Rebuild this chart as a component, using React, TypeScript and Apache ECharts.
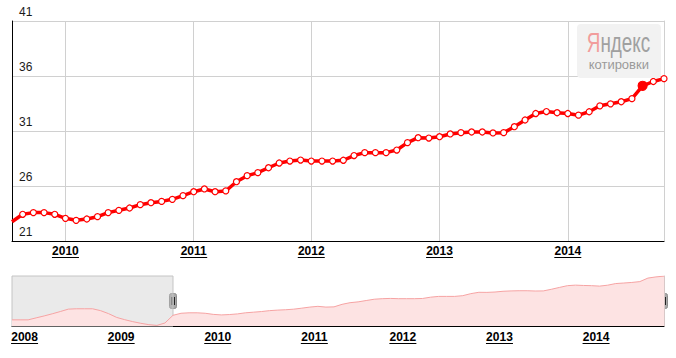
import React, { useEffect, useRef } from 'react';
import * as echarts from 'echarts';

// ---- data ----
const preDates = [
  '2007-12',
  '2008-01', '2008-02', '2008-03', '2008-04', '2008-05', '2008-06',
  '2008-07', '2008-08', '2008-09', '2008-10', '2008-11', '2008-12',
  '2009-01', '2009-02', '2009-03', '2009-04', '2009-05', '2009-06', '2009-07',
];
const preValues = [
  21.24,
  21.24, 21.24, 21.9, 22.55, 23.25, 24.0,
  24.8, 24.92, 24.92, 24.92, 24.3, 23.3,
  22.05, 21.3, 20.65, 20.1, 19.65, 19.4, 20.2,
];

const mainDates = [
  '2009-08', '2009-09', '2009-10', '2009-11', '2009-12',
  '2010-01', '2010-02', '2010-03', '2010-04', '2010-05', '2010-06',
  '2010-07', '2010-08', '2010-09', '2010-10', '2010-11', '2010-12',
  '2011-01', '2011-02', '2011-03', '2011-04', '2011-05', '2011-06',
  '2011-07', '2011-09', '2011-10', '2011-11', '2011-12',
  '2012-01', '2012-02', '2012-03', '2012-04', '2012-05', '2012-06',
  '2012-07', '2012-08', '2012-09', '2012-10', '2012-11', '2012-12',
  '2013-01', '2013-02', '2013-03', '2013-04', '2013-05', '2013-06',
  '2013-07', '2013-08', '2013-09', '2013-10', '2013-11', '2013-12',
  '2014-01', '2014-02', '2014-03', '2014-04', '2014-05', '2014-06',
  '2014-07', '2014-08', '2014-09', '2014-10',
];
const mainValues = [
  22.75, 23.43, 23.58, 23.58, 23.43,
  23.06, 22.88, 23.0, 23.21, 23.58, 23.79,
  24.0, 24.3, 24.48, 24.6, 24.79, 25.12,
  25.48, 25.73, 25.48, 25.55, 26.39, 26.94,
  27.21, 27.66, 28.09, 28.27, 28.36,
  28.27, 28.27, 28.27, 28.34, 28.77, 29.03,
  29.03, 29.03, 29.27, 29.94, 30.39, 30.36,
  30.48, 30.73, 30.85, 30.91, 30.91, 30.82,
  30.85, 31.39, 32.0, 32.59, 32.77, 32.66,
  32.59, 32.44, 32.75, 33.29, 33.47, 33.66,
  33.94, 35.11, 35.5, 35.76,
];
const highlightIndex = 59;
const yTicks = [21, 26, 31, 36, 41];
const navRange = [19.2, 35.8];

const FONT = '"Liberation Sans", Arial, Helvetica, sans-serif';

const isYearStart = (_i: number, v: string) => typeof v === 'string' && v.endsWith('-01');
const yearLabel = (v: string) => `{t|${v.slice(0, 4)}}\n{u|}`;
const yearRich = {
  t: { fontFamily: FONT, fontWeight: 'bold', fontSize: 12, lineHeight: 12, color: '#000' },
  u: { width: 27, height: 1, lineHeight: 1, backgroundColor: '#000' },
};

export default function App() {
  const ref = useRef<HTMLDivElement>(null);
  useEffect(() => {
    if (!ref.current) return;
    const chart = echarts.init(ref.current, null, { renderer: 'svg' });
    const navDates = [...preDates, ...mainDates];
    const navValues = [...preValues, ...mainValues];
    const selStart = preDates.length;
    const mainData = mainValues.map((v, i) => {
      if (i === 0) return { value: v, symbol: 'none' };
      if (i === highlightIndex)
        return { value: v, symbolSize: 9, itemStyle: { color: '#ff0000', borderColor: '#ff0000' } };
      return v;
    });
    const option: any = {
      animation: false,
      backgroundColor: '#ffffff',
      grid: [
        { left: 12, right: 12, top: 21, height: 220, outerBoundsMode: 'none' },
        { left: 12, right: 12, top: 276, height: 50, outerBoundsMode: 'none' },
      ],
      xAxis: [
        {
          type: 'category', gridIndex: 0, data: mainDates, boundaryGap: false,
          axisLine: { lineStyle: { color: '#000', width: 1 } },
          axisTick: { show: false },
          axisLabel: { interval: isYearStart, formatter: yearLabel, margin: 4, rich: yearRich },
          splitLine: { show: true, interval: isYearStart, lineStyle: { color: '#d0d0d0', width: 1 } },
        },
        {
          type: 'category', gridIndex: 1, data: navDates, boundaryGap: false,
          axisLine: { lineStyle: { color: '#000', width: 1 } },
          axisTick: { show: false },
          axisLabel: { interval: isYearStart, formatter: yearLabel, margin: 5, rich: yearRich, padding: [0, 0, 0, 9] },
          splitLine: { show: false },
        },
      ],
      yAxis: [
        {
          type: 'value', gridIndex: 0, min: yTicks[0], max: yTicks[yTicks.length - 1], interval: yTicks[1] - yTicks[0],
          axisLine: { show: true, lineStyle: { color: '#000', width: 1 } },
          axisTick: { show: false },
          axisLabel: {
            inside: true, margin: 7, color: '#1a1a1a', fontSize: 12, fontFamily: FONT,
            verticalAlign: 'bottom', lineHeight: 14, padding: [0, 0, 2, 0],
          },
          splitLine: { show: true, lineStyle: { color: '#d0d0d0', width: 1 } },
        },
        {
          type: 'value', gridIndex: 0, position: 'right', min: yTicks[0], max: yTicks[yTicks.length - 1],
          axisLine: { show: true, lineStyle: { color: '#d0d0d0', width: 1 } },
          axisTick: { show: false }, axisLabel: { show: false }, splitLine: { show: false },
        },
        {
          type: 'value', gridIndex: 1, min: navRange[0], max: navRange[1],
          axisLine: { show: false }, axisTick: { show: false }, axisLabel: { show: false }, splitLine: { show: false },
        },
        {
          type: 'value', gridIndex: 1, position: 'right', min: navRange[0], max: navRange[1],
          axisLine: { show: true, lineStyle: { color: '#d8c8c8', width: 1 } },
          axisTick: { show: false }, axisLabel: { show: false }, splitLine: { show: false },
        },
      ],
      series: [
        {
          type: 'line', xAxisIndex: 1, yAxisIndex: 2, data: navValues, symbol: 'none',
          lineStyle: { color: '#f6a3a3', width: 1 },
          areaStyle: { color: '#fde3e3', opacity: 1 },
          markArea: {
            silent: true,
            itemStyle: { color: 'rgba(200,200,200,0.38)', borderColor: '#c4c4c4', borderWidth: 1 },
            data: [[{ xAxis: navDates[0] }, { xAxis: navDates[selStart] }]],
          },
        },
        {
          type: 'line', xAxisIndex: 0, yAxisIndex: 0, data: mainData,
          symbol: 'circle', symbolSize: 6, showAllSymbol: true,
          lineStyle: { color: '#ff0000', width: 3.5 },
          itemStyle: { color: '#ffffff', borderColor: '#ff0000', borderWidth: 1.2 },
          z: 3,
        },
      ],
    };
    chart.setOption(option);

    const hx1 = chart.convertToPixel({ xAxisIndex: 1 }, navDates[selStart]) as number;
    const hx2 = chart.convertToPixel({ xAxisIndex: 1 }, navDates[navDates.length - 1]) as number;
    const hy = chart.convertToPixel({ yAxisIndex: 2 }, (navRange[0] + navRange[1]) / 2) as number;
    const handle = (x: number) => ({
      type: 'group', x, y: hy, z: 20,
      children: [
        { type: 'rect', shape: { x: -3.5, y: -7.5, width: 7, height: 15, r: 2 }, style: { fill: '#a9a9a9', stroke: '#8c8c8c', lineWidth: 1 } },
        { type: 'line', shape: { x1: -1, y1: -4, x2: -1, y2: 4 }, style: { stroke: '#222', lineWidth: 1 } },
        { type: 'line', shape: { x1: 1.5, y1: -4, x2: 1.5, y2: 4 }, style: { stroke: '#222', lineWidth: 1 } },
      ],
    });
    chart.setOption({
      graphic: [
        { type: 'rect', z: 10, shape: { x: 577, y: 24, width: 84, height: 54, r: 4 }, style: { fill: '#f2f2f2' } },
        {
          type: 'text', z: 11, x: 618.5, y: 42.5, scaleX: 0.7,
          style: {
            text: '{a|Я}{b|ндекс}', align: 'center', verticalAlign: 'middle',
            rich: {
              a: { fill: '#f29c9c', fontSize: 27, fontFamily: FONT },
              b: { fill: '#a0a0a0', fontSize: 27, fontFamily: FONT },
            },
          },
        },
        {
          type: 'text', z: 11, x: 618.8, y: 64.5,
          style: { text: 'котировки', fill: '#9a9a9a', fontSize: 13, fontFamily: FONT, align: 'center', verticalAlign: 'middle' },
        },
        handle(hx1),
        handle(hx2),
      ],
    });
    return () => chart.dispose();
  }, []);
  return (
    <div
      ref={ref}
      style={{ position: 'absolute', left: 0, top: 0, width: 676, height: 358, background: '#fff' }}
    />
  );
}
